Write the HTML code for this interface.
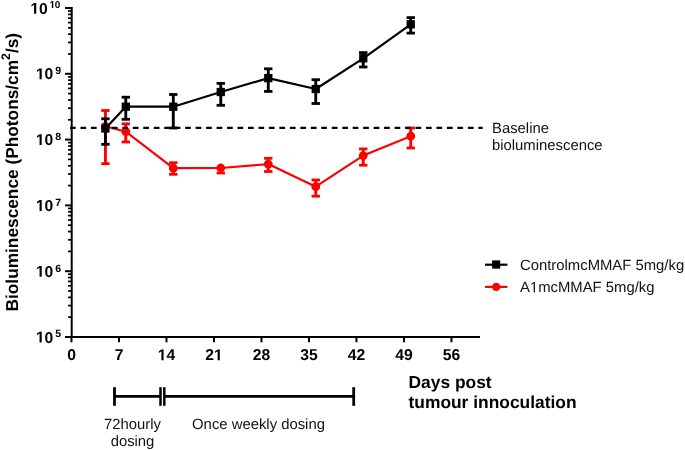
<!DOCTYPE html>
<html><head><meta charset="utf-8"><style>
html,body{margin:0;padding:0;background:#fff;width:685px;height:450px;overflow:hidden}
svg{display:block;will-change:transform}
text{font-family:"Liberation Sans",sans-serif;text-rendering:geometricPrecision}
.ax{stroke:#000;stroke-width:2}
.mt{stroke:#000;stroke-width:1.7}
.tl{font-weight:700;font-size:15.7px;fill:#000}
.sup{font-size:10.5px;font-weight:700}
.one{fill:transparent}
.rg{font-size:14.85px;fill:#111}
.bt{font-weight:700;font-size:17.4px;fill:#000}
.yt{font-weight:700;font-size:17.3px;fill:#000}
.ysup{font-size:12.3px;font-weight:700}
</style></head><body>
<svg width="685" height="450" viewBox="0 0 685 450">
<line x1="68" y1="317.19" x2="72.2" y2="317.19" class="mt"/>
<line x1="68" y1="305.61" x2="72.2" y2="305.61" class="mt"/>
<line x1="68" y1="297.38" x2="72.2" y2="297.38" class="mt"/>
<line x1="68" y1="291.01" x2="72.2" y2="291.01" class="mt"/>
<line x1="68" y1="285.80" x2="72.2" y2="285.80" class="mt"/>
<line x1="68" y1="281.39" x2="72.2" y2="281.39" class="mt"/>
<line x1="68" y1="277.58" x2="72.2" y2="277.58" class="mt"/>
<line x1="68" y1="274.21" x2="72.2" y2="274.21" class="mt"/>
<line x1="68" y1="251.39" x2="72.2" y2="251.39" class="mt"/>
<line x1="68" y1="239.81" x2="72.2" y2="239.81" class="mt"/>
<line x1="68" y1="231.58" x2="72.2" y2="231.58" class="mt"/>
<line x1="68" y1="225.21" x2="72.2" y2="225.21" class="mt"/>
<line x1="68" y1="220.00" x2="72.2" y2="220.00" class="mt"/>
<line x1="68" y1="215.59" x2="72.2" y2="215.59" class="mt"/>
<line x1="68" y1="211.78" x2="72.2" y2="211.78" class="mt"/>
<line x1="68" y1="208.41" x2="72.2" y2="208.41" class="mt"/>
<line x1="68" y1="185.59" x2="72.2" y2="185.59" class="mt"/>
<line x1="68" y1="174.01" x2="72.2" y2="174.01" class="mt"/>
<line x1="68" y1="165.78" x2="72.2" y2="165.78" class="mt"/>
<line x1="68" y1="159.41" x2="72.2" y2="159.41" class="mt"/>
<line x1="68" y1="154.20" x2="72.2" y2="154.20" class="mt"/>
<line x1="68" y1="149.79" x2="72.2" y2="149.79" class="mt"/>
<line x1="68" y1="145.98" x2="72.2" y2="145.98" class="mt"/>
<line x1="68" y1="142.61" x2="72.2" y2="142.61" class="mt"/>
<line x1="68" y1="119.79" x2="72.2" y2="119.79" class="mt"/>
<line x1="68" y1="108.21" x2="72.2" y2="108.21" class="mt"/>
<line x1="68" y1="99.98" x2="72.2" y2="99.98" class="mt"/>
<line x1="68" y1="93.61" x2="72.2" y2="93.61" class="mt"/>
<line x1="68" y1="88.40" x2="72.2" y2="88.40" class="mt"/>
<line x1="68" y1="83.99" x2="72.2" y2="83.99" class="mt"/>
<line x1="68" y1="80.18" x2="72.2" y2="80.18" class="mt"/>
<line x1="68" y1="76.81" x2="72.2" y2="76.81" class="mt"/>
<line x1="68" y1="53.99" x2="72.2" y2="53.99" class="mt"/>
<line x1="68" y1="42.41" x2="72.2" y2="42.41" class="mt"/>
<line x1="68" y1="34.18" x2="72.2" y2="34.18" class="mt"/>
<line x1="68" y1="27.81" x2="72.2" y2="27.81" class="mt"/>
<line x1="68" y1="22.60" x2="72.2" y2="22.60" class="mt"/>
<line x1="68" y1="18.19" x2="72.2" y2="18.19" class="mt"/>
<line x1="68" y1="14.38" x2="72.2" y2="14.38" class="mt"/>
<line x1="68" y1="11.01" x2="72.2" y2="11.01" class="mt"/>
<line x1="65" y1="337.00" x2="72.2" y2="337.00" class="ax"/>
<line x1="65" y1="271.20" x2="72.2" y2="271.20" class="ax"/>
<line x1="65" y1="205.40" x2="72.2" y2="205.40" class="ax"/>
<line x1="65" y1="139.60" x2="72.2" y2="139.60" class="ax"/>
<line x1="65" y1="73.80" x2="72.2" y2="73.80" class="ax"/>
<line x1="65" y1="8.00" x2="72.2" y2="8.00" class="ax"/>
<line x1="71.50" y1="337" x2="71.50" y2="342.3" class="ax"/>
<text x="71.50" y="360.3" class="tl" text-anchor="middle">0</text>
<line x1="119.00" y1="337" x2="119.00" y2="342.3" class="ax"/>
<text x="119.00" y="360.3" class="tl" text-anchor="middle">7</text>
<line x1="166.49" y1="337" x2="166.49" y2="342.3" class="ax"/>
<text x="166.49" y="360.3" class="tl" text-anchor="middle"><tspan class="one">1</tspan>4</text>
<line x1="213.99" y1="337" x2="213.99" y2="342.3" class="ax"/>
<text x="213.99" y="360.3" class="tl" text-anchor="middle">2<tspan class="one">1</tspan></text>
<line x1="261.48" y1="337" x2="261.48" y2="342.3" class="ax"/>
<text x="261.48" y="360.3" class="tl" text-anchor="middle">28</text>
<line x1="308.98" y1="337" x2="308.98" y2="342.3" class="ax"/>
<text x="308.98" y="360.3" class="tl" text-anchor="middle">35</text>
<line x1="356.47" y1="337" x2="356.47" y2="342.3" class="ax"/>
<text x="356.47" y="360.3" class="tl" text-anchor="middle">42</text>
<line x1="403.97" y1="337" x2="403.97" y2="342.3" class="ax"/>
<text x="403.97" y="360.3" class="tl" text-anchor="middle">49</text>
<line x1="451.46" y1="337" x2="451.46" y2="342.3" class="ax"/>
<text x="451.46" y="360.3" class="tl" text-anchor="middle">56</text>
<line x1="71.7" y1="7" x2="71.7" y2="337" class="ax"/>
<line x1="70.7" y1="337" x2="480" y2="337" class="ax"/>
<text x="35.9" y="342.50" class="tl"><tspan class="one">1</tspan><tspan dx="-0.2">0</tspan><tspan class="sup" dx="2.2" dy="-5.2">5</tspan></text>
<text x="35.9" y="276.70" class="tl"><tspan class="one">1</tspan><tspan dx="-0.2">0</tspan><tspan class="sup" dx="2.2" dy="-5.2">6</tspan></text>
<text x="35.9" y="210.90" class="tl"><tspan class="one">1</tspan><tspan dx="-0.2">0</tspan><tspan class="sup" dx="2.2" dy="-5.2">7</tspan></text>
<text x="35.9" y="145.10" class="tl"><tspan class="one">1</tspan><tspan dx="-0.2">0</tspan><tspan class="sup" dx="2.2" dy="-5.2">8</tspan></text>
<text x="35.9" y="79.30" class="tl"><tspan class="one">1</tspan><tspan dx="-0.2">0</tspan><tspan class="sup" dx="2.2" dy="-5.2">9</tspan></text>
<text x="30.4" y="13.8" class="tl"><tspan class="one">1</tspan><tspan dx="-0.2">0</tspan><tspan class="sup" style="font-size:10px" dx="1.9" dy="-5.8"><tspan class="one">1</tspan><tspan dx="-0.4">0</tspan></tspan></text>
<line x1="105.42" y1="110.50" x2="105.42" y2="163.70" stroke="#ff0000" stroke-width="2.9"/>
<line x1="101.22" y1="110.50" x2="109.62" y2="110.50" stroke="#ff0000" stroke-width="2.8"/>
<line x1="101.22" y1="163.70" x2="109.62" y2="163.70" stroke="#ff0000" stroke-width="2.8"/>
<line x1="125.78" y1="123.80" x2="125.78" y2="142.00" stroke="#ff0000" stroke-width="2.9"/>
<line x1="121.58" y1="123.80" x2="129.98" y2="123.80" stroke="#ff0000" stroke-width="2.8"/>
<line x1="121.58" y1="142.00" x2="129.98" y2="142.00" stroke="#ff0000" stroke-width="2.8"/>
<line x1="173.28" y1="162.70" x2="173.28" y2="174.30" stroke="#ff0000" stroke-width="2.9"/>
<line x1="169.08" y1="162.70" x2="177.47" y2="162.70" stroke="#ff0000" stroke-width="2.8"/>
<line x1="169.08" y1="174.30" x2="177.47" y2="174.30" stroke="#ff0000" stroke-width="2.8"/>
<line x1="220.77" y1="168.00" x2="220.77" y2="173.00" stroke="#ff0000" stroke-width="2.9"/>
<line x1="216.57" y1="173.00" x2="224.97" y2="173.00" stroke="#ff0000" stroke-width="2.8"/>
<line x1="268.26" y1="158.30" x2="268.26" y2="171.50" stroke="#ff0000" stroke-width="2.9"/>
<line x1="264.06" y1="158.30" x2="272.46" y2="158.30" stroke="#ff0000" stroke-width="2.8"/>
<line x1="264.06" y1="171.50" x2="272.46" y2="171.50" stroke="#ff0000" stroke-width="2.8"/>
<line x1="315.76" y1="180.00" x2="315.76" y2="196.20" stroke="#ff0000" stroke-width="2.9"/>
<line x1="311.56" y1="180.00" x2="319.96" y2="180.00" stroke="#ff0000" stroke-width="2.8"/>
<line x1="311.56" y1="196.20" x2="319.96" y2="196.20" stroke="#ff0000" stroke-width="2.8"/>
<line x1="363.25" y1="148.90" x2="363.25" y2="165.20" stroke="#ff0000" stroke-width="2.9"/>
<line x1="359.06" y1="148.90" x2="367.45" y2="148.90" stroke="#ff0000" stroke-width="2.8"/>
<line x1="359.06" y1="165.20" x2="367.45" y2="165.20" stroke="#ff0000" stroke-width="2.8"/>
<line x1="410.75" y1="128.00" x2="410.75" y2="148.00" stroke="#ff0000" stroke-width="2.9"/>
<line x1="406.55" y1="128.00" x2="414.95" y2="128.00" stroke="#ff0000" stroke-width="2.8"/>
<line x1="406.55" y1="148.00" x2="414.95" y2="148.00" stroke="#ff0000" stroke-width="2.8"/>
<polyline points="105.42,126.30 125.78,131.70 173.28,168.10 220.77,168.00 268.26,164.10 315.76,186.70 363.25,155.60 410.75,136.20" fill="none" stroke="#ff0000" stroke-width="2.2" stroke-linejoin="round"/>
<circle cx="105.42" cy="126.30" r="4.4" fill="#ff0000"/>
<circle cx="125.78" cy="131.70" r="4.4" fill="#ff0000"/>
<circle cx="173.28" cy="168.10" r="4.4" fill="#ff0000"/>
<circle cx="220.77" cy="168.00" r="4.4" fill="#ff0000"/>
<circle cx="268.26" cy="164.10" r="4.4" fill="#ff0000"/>
<circle cx="315.76" cy="186.70" r="4.4" fill="#ff0000"/>
<circle cx="363.25" cy="155.60" r="4.4" fill="#ff0000"/>
<circle cx="410.75" cy="136.20" r="4.4" fill="#ff0000"/>
<line x1="105.42" y1="118.80" x2="105.42" y2="144.30" stroke="#000" stroke-width="2.9"/>
<line x1="101.22" y1="118.80" x2="109.62" y2="118.80" stroke="#000" stroke-width="2.8"/>
<line x1="101.22" y1="144.30" x2="109.62" y2="144.30" stroke="#000" stroke-width="2.8"/>
<line x1="125.78" y1="97.20" x2="125.78" y2="119.30" stroke="#000" stroke-width="2.9"/>
<line x1="121.58" y1="97.20" x2="129.98" y2="97.20" stroke="#000" stroke-width="2.8"/>
<line x1="121.58" y1="119.30" x2="129.98" y2="119.30" stroke="#000" stroke-width="2.8"/>
<line x1="173.28" y1="94.50" x2="173.28" y2="128.00" stroke="#000" stroke-width="2.9"/>
<line x1="169.08" y1="94.50" x2="177.47" y2="94.50" stroke="#000" stroke-width="2.8"/>
<line x1="169.08" y1="128.00" x2="177.47" y2="128.00" stroke="#000" stroke-width="2.8"/>
<line x1="220.77" y1="83.40" x2="220.77" y2="105.30" stroke="#000" stroke-width="2.9"/>
<line x1="216.57" y1="83.40" x2="224.97" y2="83.40" stroke="#000" stroke-width="2.8"/>
<line x1="216.57" y1="105.30" x2="224.97" y2="105.30" stroke="#000" stroke-width="2.8"/>
<line x1="268.26" y1="68.80" x2="268.26" y2="91.40" stroke="#000" stroke-width="2.9"/>
<line x1="264.06" y1="68.80" x2="272.46" y2="68.80" stroke="#000" stroke-width="2.8"/>
<line x1="264.06" y1="91.40" x2="272.46" y2="91.40" stroke="#000" stroke-width="2.8"/>
<line x1="315.76" y1="79.70" x2="315.76" y2="103.50" stroke="#000" stroke-width="2.9"/>
<line x1="311.56" y1="79.70" x2="319.96" y2="79.70" stroke="#000" stroke-width="2.8"/>
<line x1="311.56" y1="103.50" x2="319.96" y2="103.50" stroke="#000" stroke-width="2.8"/>
<line x1="363.25" y1="52.60" x2="363.25" y2="67.00" stroke="#000" stroke-width="2.9"/>
<line x1="359.06" y1="52.60" x2="367.45" y2="52.60" stroke="#000" stroke-width="2.8"/>
<line x1="359.06" y1="67.00" x2="367.45" y2="67.00" stroke="#000" stroke-width="2.8"/>
<line x1="410.75" y1="17.60" x2="410.75" y2="33.10" stroke="#000" stroke-width="2.9"/>
<line x1="406.55" y1="17.60" x2="414.95" y2="17.60" stroke="#000" stroke-width="2.8"/>
<line x1="406.55" y1="33.10" x2="414.95" y2="33.10" stroke="#000" stroke-width="2.8"/>
<polyline points="105.42,128.50 125.78,106.70 173.28,106.70 220.77,92.00 268.26,78.10 315.76,89.00 363.25,58.30 410.75,24.30" fill="none" stroke="#000" stroke-width="2.2" stroke-linejoin="round"/>
<rect x="101.27" y="124.35" width="8.3" height="8.3" fill="#000"/>
<rect x="121.63" y="102.55" width="8.3" height="8.3" fill="#000"/>
<rect x="169.12" y="102.55" width="8.3" height="8.3" fill="#000"/>
<rect x="216.62" y="87.85" width="8.3" height="8.3" fill="#000"/>
<rect x="264.12" y="73.95" width="8.3" height="8.3" fill="#000"/>
<rect x="311.61" y="84.85" width="8.3" height="8.3" fill="#000"/>
<rect x="359.11" y="54.15" width="8.3" height="8.3" fill="#000"/>
<rect x="406.60" y="20.15" width="8.3" height="8.3" fill="#000"/>
<line x1="70" y1="127.8" x2="482.7" y2="127.8" stroke="#000" stroke-width="2.2" stroke-dasharray="5.7 4.77"/>
<text x="492" y="132.9" class="rg">Baseline</text>
<text x="492" y="150.3" class="rg">bioluminescence</text>
<line x1="485" y1="264.7" x2="507.4" y2="264.7" stroke="#000" stroke-width="2.2"/>
<rect x="492.1" y="260.4" width="8.1" height="8.2" fill="#000"/>
<line x1="485" y1="286.9" x2="507.4" y2="286.9" stroke="#ff0000" stroke-width="2.2"/>
<circle cx="496.2" cy="286.9" r="4.2" fill="#ff0000"/>
<text x="520" y="269.7" class="rg">ControlmcMMAF 5mg/kg</text>
<text x="520" y="292.3" class="rg">A<tspan class="one">1</tspan>mcMMAF 5mg/kg</text>
<text x="408.5" y="388.2" class="bt">Days post</text>
<text x="408.5" y="408.2" class="bt">tumour innoculation</text>
<text transform="translate(18.3,311.5) rotate(-90)" class="yt">Bioluminescence (Photons/cm<tspan class="ysup" dy="-8.2">2</tspan><tspan dy="8.2">/s)</tspan></text>
<line x1="114.5" y1="396.3" x2="160.5" y2="396.3" stroke="#000" stroke-width="2.7"/>
<line x1="164.3" y1="396.3" x2="353.7" y2="396.3" stroke="#000" stroke-width="2.7"/>
<line x1="114.5" y1="387.2" x2="114.5" y2="405.8" stroke="#000" stroke-width="2.8"/>
<line x1="160.5" y1="387.2" x2="160.5" y2="405.8" stroke="#000" stroke-width="2.5"/>
<line x1="164.3" y1="387.2" x2="164.3" y2="405.8" stroke="#000" stroke-width="2.5"/>
<line x1="353.7" y1="387.2" x2="353.7" y2="405.8" stroke="#000" stroke-width="2.8"/>
<text x="132.5" y="428.7" class="rg" text-anchor="middle">72hourly</text>
<text x="132.5" y="445.8" class="rg" text-anchor="middle">dosing</text>
<text x="258.5" y="429.4" class="rg" text-anchor="middle">Once weekly dosing</text>
<g fill="#000"><path d="M478 0L478 1170L140 959L140 1180L493 1409L759 1409L759 0Z" transform="translate(157.76,360.30) scale(0.00767,-0.00767)"/><path d="M478 0L478 1170L140 959L140 1180L493 1409L759 1409L759 0Z" transform="translate(213.99,360.30) scale(0.00767,-0.00767)"/><path d="M478 0L478 1170L140 959L140 1180L493 1409L759 1409L759 0Z" transform="translate(35.90,342.50) scale(0.00767,-0.00767)"/><path d="M478 0L478 1170L140 959L140 1180L493 1409L759 1409L759 0Z" transform="translate(35.90,276.70) scale(0.00767,-0.00767)"/><path d="M478 0L478 1170L140 959L140 1180L493 1409L759 1409L759 0Z" transform="translate(35.90,210.90) scale(0.00767,-0.00767)"/><path d="M478 0L478 1170L140 959L140 1180L493 1409L759 1409L759 0Z" transform="translate(35.90,145.10) scale(0.00767,-0.00767)"/><path d="M478 0L478 1170L140 959L140 1180L493 1409L759 1409L759 0Z" transform="translate(35.90,79.30) scale(0.00767,-0.00767)"/><path d="M478 0L478 1170L140 959L140 1180L493 1409L759 1409L759 0Z" transform="translate(30.40,13.80) scale(0.00767,-0.00767)"/><path d="M478 0L478 1170L140 959L140 1180L493 1409L759 1409L759 0Z" transform="translate(49.57,8.00) scale(0.00488,-0.00488)"/><path d="M515 0L515 1237L197 1010L197 1180L530 1409L696 1409L696 0Z" fill="#111" transform="translate(529.91,292.30) scale(0.00725,-0.00725)"/></g>
</svg>
</body></html>
